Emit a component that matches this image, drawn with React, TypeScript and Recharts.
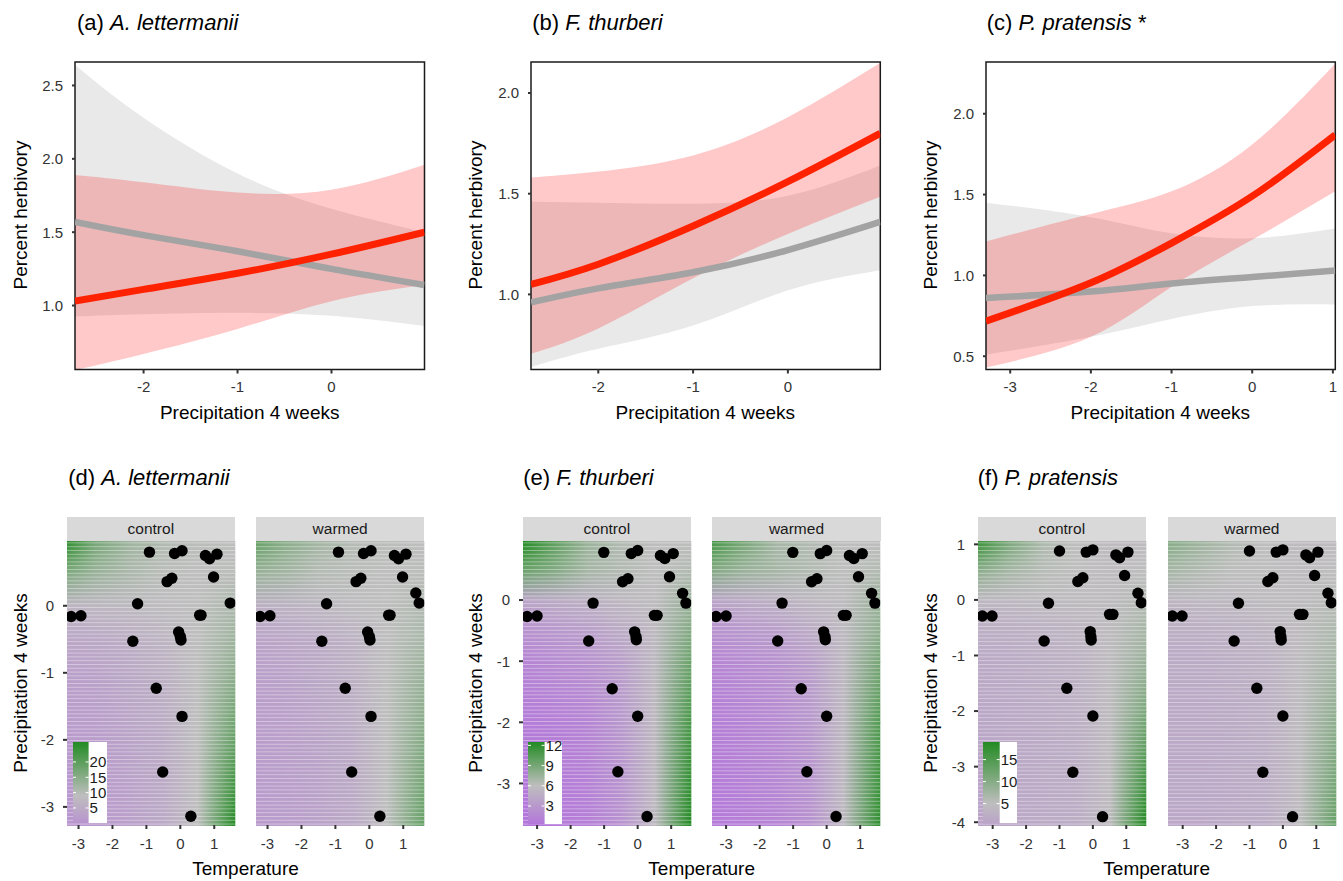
import React from 'react';
import { ComposedChart, ScatterChart, Scatter, Line, Area, XAxis, YAxis, ReferenceArea } from 'recharts';

const FONT = '"Liberation Sans", Arial, Helvetica, sans-serif';

// ---- top row: fitted herbivory vs precipitation ----
const X_A = [-2.73, -2, -1, 0, 0.99];
const RED_A = [1.03, 1.11, 1.22, 1.35, 1.5];
const RED_A_LO = [0.56, 0.67, 0.84, 1.03, 1.14];
const RED_A_HI = [1.89, 1.84, 1.77, 1.79, 1.96];
const GRAY_A = [1.57, 1.48, 1.37, 1.25, 1.14];
const GRAY_A_LO = [0.925, 0.94, 0.95, 0.93, 0.86];
const GRAY_A_HI = [2.64, 2.28, 1.9, 1.66, 1.5];

const X_B = [-2.71, -2, -1, 0, 0.975];
const RED_B = [1.05, 1.15, 1.34, 1.56, 1.8];
const RED_B_LO = [0.705, 0.83, 1.08, 1.3, 1.485];
const RED_B_HI = [1.58, 1.61, 1.69, 1.88, 2.15];
const GRAY_B = [0.96, 1.03, 1.11, 1.22, 1.36];
const GRAY_B_LO = [0.64, 0.73, 0.845, 1.02, 1.12];
const GRAY_B_HI = [1.46, 1.455, 1.45, 1.49, 1.64];

const X_C = [-3.3, -2, -1, 0, 1.03];
const RED_C = [0.717, 0.954, 1.2, 1.49, 1.87];
const RED_C_LO = [0.43, 0.62, 0.93, 1.22, 1.52];
const RED_C_HI = [1.21, 1.38, 1.52, 1.81, 2.31];
const GRAY_C = [0.86, 0.9, 0.95, 0.99, 1.03];
const GRAY_C_LO = [0.51, 0.62, 0.73, 0.81, 0.82];
const GRAY_C_HI = [1.45, 1.36, 1.26, 1.23, 1.29];

// ---- bottom row: observed temperature / precipitation ----
const D_TEMP = [-0.91, -0.17, 0.05, 0.74, 0.86, 1.08, 0.98, -0.39, -0.25, -1.26, 1.37, 1.47, -3.22, -2.93, 0.57, 0.61, -0.05, 0.0, 0.02, -1.4, -0.71, 0.05, -0.52, 0.31];
const D_PRECIP = [0.8, 0.78, 0.82, 0.75, 0.7, 0.77, 0.43, 0.36, 0.41, 0.03, 0.19, 0.04, -0.16, -0.15, -0.14, -0.14, -0.39, -0.46, -0.51, -0.53, -1.23, -1.65, -2.48, -3.14];
const D_CONTROL_MISSING = [10];

const E_TEMP = [-1.01, -0.19, 0.0, 0.68, 0.81, 1.06, 0.95, -0.45, -0.29, -1.33, 1.34, 1.44, -3.3, -3.0, 0.5, 0.58, -0.09, -0.05, -0.04, -1.46, -0.76, 0.0, -0.59, 0.28];
const E_PRECIP = [0.78, 0.76, 0.81, 0.73, 0.68, 0.76, 0.38, 0.3, 0.35, -0.05, 0.11, -0.05, -0.27, -0.26, -0.25, -0.25, -0.52, -0.6, -0.65, -0.67, -1.45, -1.9, -2.81, -3.54];

const F_TEMP = [-1.0, -0.2, 0.0, 0.69, 0.8, 1.05, 0.95, -0.45, -0.3, -1.33, 1.35, 1.45, -3.31, -3.02, 0.5, 0.6, -0.08, -0.06, -0.05, -1.46, -0.78, 0.0, -0.6, 0.29];
const F_PRECIP = [0.88, 0.86, 0.9, 0.81, 0.76, 0.86, 0.44, 0.33, 0.4, -0.06, 0.12, -0.05, -0.29, -0.29, -0.26, -0.26, -0.57, -0.66, -0.72, -0.74, -1.59, -2.09, -3.1, -3.9];

// predicted herbivory surface, read at grid temps (cols) x precip (rows)
const D_COLS = [-3.34, -2.5, -1.5, -0.5, 0.5, 1.62];
const D_ROWS = [0.966, 0.5, 0, -0.5, -1, -2, -3.27];
const D_CONTROL = [
  [25, 17, 12.5, 10.5, 9.5, 9],
  [16, 13, 11, 9.5, 9, 9.5],
  [7, 7.5, 8, 8.5, 9, 11],
  [4, 4.5, 5.5, 7, 9, 12.5],
  [2.5, 3, 4.5, 6, 9, 14.5],
  [1.5, 2, 3.5, 5, 9, 19],
  [0.5, 1, 2.5, 4.5, 9, 26],
];
const D_WARMED = [
  [19, 15, 12, 10, 9.5, 9],
  [13, 12, 10, 9.5, 9, 9.5],
  [6, 6.5, 7.5, 8.5, 9, 10.5],
  [3.5, 4, 5, 6.5, 9, 11.5],
  [2.5, 3, 4.5, 6, 9, 13],
  [2, 2.5, 3.5, 5, 9, 15.5],
  [1.5, 2, 3, 4.5, 9, 19],
];

const E_COLS = [-3.42, -2.5, -1.5, -0.5, 0.5, 1.6];
const E_ROWS = [0.966, 0.5, 0, -0.5, -1, -2, -3.68];
const E_CONTROL = [
  [12.5, 10, 7.5, 6.5, 6, 6],
  [9.5, 8.5, 7, 6.5, 6, 6.5],
  [4, 4.5, 5, 5.5, 5.8, 7.5],
  [2.5, 3, 3.5, 4.5, 5.6, 8.5],
  [1.5, 2, 2.5, 3.5, 5.5, 9.5],
  [0.8, 1, 1.5, 3, 5.5, 11],
  [0.3, 0.5, 1, 2.5, 5.5, 12.5],
];
const E_WARMED = [
  [11, 9, 7, 6.5, 6, 6],
  [8.5, 7.5, 7, 6.5, 6, 6.5],
  [4, 4.5, 5, 5.5, 5.8, 7.5],
  [2.5, 3, 3.5, 4.5, 5.6, 8],
  [1.5, 2, 2.5, 3.5, 5.5, 9],
  [1, 1.5, 2, 3, 5.5, 10.5],
  [0.6, 1, 1.5, 2.5, 5.5, 12],
];

const F_COLS = [-3.44, -2.5, -1.5, -0.5, 0.5, 1.6];
const F_ROWS = [1.06, 0.5, 0, -0.5, -1, -2, -4.05];
const F_CONTROL = [
  [17, 11, 6.5, 5, 4.5, 4.5],
  [9, 7, 5.5, 5, 4.5, 5],
  [4, 4, 4.5, 4.5, 4.5, 6],
  [2.5, 2.5, 3, 3.5, 4.5, 7],
  [1.5, 2, 2.5, 3, 4.5, 8],
  [1, 1.5, 2, 2.5, 4.5, 11],
  [0.5, 1, 1.5, 2, 4.5, 19],
];
const F_WARMED = [
  [10, 8, 6, 5, 4.5, 4.5],
  [7, 6, 5, 5, 4.5, 5],
  [3.5, 4, 4, 4.5, 4.5, 5.5],
  [2.5, 2.5, 3, 3.5, 4.5, 6.5],
  [2, 2, 2.5, 3, 4.5, 7],
  [1.5, 1.5, 2, 2.5, 4.5, 9],
  [1, 1, 1.5, 2, 4.5, 13],
];

const D_LEGEND_RANGE = [0.1, 26.5];
const D_LEGEND_TICKS = [5, 10, 15, 20];
const E_LEGEND_RANGE = [0.28, 12.5];
const E_LEGEND_TICKS = [3, 6, 9, 12];
const F_LEGEND_RANGE = [0.45, 19];
const F_LEGEND_TICKS = [5, 10, 15];

const TEMP_TICKS = [-3, -2, -1, 0, 1];

// colour scale: purple -> grey -> forestgreen around a midpoint
const LOW = [178, 108, 222];
const MID = [190, 190, 190];
const HIGH = [34, 139, 34];

function fillColor(v: number, range: number[], mid: number) {
  const span = Math.max(range[1] - mid, mid - range[0]);
  let t = 0.5 + (v - mid) / (2 * span);
  t = Math.min(1, Math.max(0, t));
  const a = t < 0.5 ? LOW : MID;
  const b = t < 0.5 ? MID : HIGH;
  const f = t < 0.5 ? t / 0.5 : (t - 0.5) / 0.5;
  const c = a.map((x, i) => Math.round(x + (b[i] - x) * f));
  return `rgb(${c[0]},${c[1]},${c[2]})`;
}

const tickStyle = { fill: '#333', fontSize: 15, fontFamily: FONT };

function TrendPanel(props: any) {
  const { left, top, width, height, xs, red, redLo, redHi, gray, grayLo, grayHi, xTicks, yTicks, yDomain } = props;
  const YW = 60;
  const data = xs.map((x: number, i: number) => ({
    x,
    red: red[i],
    redBand: [redLo[i], redHi[i]],
    gray: gray[i],
    grayBand: [grayLo[i], grayHi[i]],
  }));
  const xDomain = [xs[0], xs[xs.length - 1]];
  return (
    <div style={{ position: 'absolute', left: left - YW, top: top - 4 }}>
      <ComposedChart width={YW + width + 4} height={4 + height + 30} margin={{ top: 4, right: 4, bottom: 0, left: 0 }} data={data}>
        <XAxis type="number" dataKey="x" domain={xDomain} ticks={xTicks} allowDataOverflow height={30} fontSize={15}
          tickSize={4} tickMargin={8} axisLine={false} tickLine={{ stroke: '#333', strokeWidth: 2 }} tick={tickStyle} interval={0} />
        <YAxis type="number" domain={yDomain} ticks={yTicks} allowDataOverflow width={YW} fontSize={15}
          tickSize={3} tickMargin={9} axisLine={false} tickLine={{ stroke: '#333', strokeWidth: 2 }} tick={tickStyle}
          tickFormatter={(v: number) => v.toFixed(1)} interval={0} />
        <Area dataKey="grayBand" type="natural" stroke="none" fill="#999999" fillOpacity={0.22} isAnimationActive={false} dot={false} activeDot={false} />
        <Area dataKey="redBand" type="natural" stroke="none" fill="#FF0000" fillOpacity={0.21} isAnimationActive={false} dot={false} activeDot={false} />
        <Line dataKey="gray" type="natural" stroke="#A3A3A3" strokeWidth={6.5} dot={false} activeDot={false} isAnimationActive={false} />
        <Line dataKey="red" type="natural" stroke="#FF2200" strokeWidth={7} dot={false} activeDot={false} isAnimationActive={false} />
        <ReferenceArea x1={xDomain[0]} x2={xDomain[1]} y1={yDomain[0]} y2={yDomain[1]} fill="none" fillOpacity={0} stroke="#1A1A1A" strokeWidth={1.5} />
      </ComposedChart>
    </div>
  );
}

const STRIP_TOP = 516.7;
const MT = 10;

function HeatFacet(props: any) {
  const { id, left, top, width, height, cols, rows, grid, range, mid, temps, precips, skip, showY, yTicks, strip } = props;
  const YW = 46;
  const offsetLeft = showY ? YW : 0;
  const xDomain = [cols[0], cols[cols.length - 1]];
  const yDomain = [rows[rows.length - 1], rows[0]];
  const data = temps
    .map((t: number, i: number) => ({ t, p: precips[i], i }))
    .filter((d: any) => !(skip || []).includes(d.i));
  const xSpan = xDomain[1] - xDomain[0];
  const bands = [];
  for (let i = 0; i < rows.length - 1; i++) {
    const a = `${id}-r${i}`;
    const b = `${id}-r${i + 1}`;
    bands.push(
      <ReferenceArea key={i} x1={xDomain[0]} x2={xDomain[1]} y1={rows[i + 1]} y2={rows[i]}
        shape={(p: any) => (
          <g>
            <rect x={p.x} y={p.y} width={p.width} height={p.height + 1} fill={`url(#${a})`} />
            <rect x={p.x} y={p.y} width={p.width} height={p.height + 1} fill={`url(#${b})`} mask={`url(#${id}-fade)`} />
          </g>
        )} />
    );
  }
  return (
    <>
      <div style={{
        position: 'absolute', left, top: STRIP_TOP, width, height: top - STRIP_TOP, background: '#D9D9D9',
        fontFamily: FONT, fontSize: 15.5, color: '#1A1A1A', display: 'flex', alignItems: 'center', justifyContent: 'center',
      }}>{strip}</div>
      <div style={{ position: 'absolute', left: left - offsetLeft, top: top - MT }}>
        <ScatterChart width={offsetLeft + width + 2} height={MT + height + 30} margin={{ top: MT, right: 2, bottom: 0, left: 0 }}>
          <defs>
            {grid.map((row: number[], r: number) => (
              <linearGradient key={r} id={`${id}-r${r}`} x1="0" y1="0" x2="1" y2="0">
                {row.map((v, j) => (
                  <stop key={j} offset={(cols[j] - xDomain[0]) / xSpan} stopColor={fillColor(v, range, mid)} />
                ))}
              </linearGradient>
            ))}
            <linearGradient id={`${id}-fadeg`} x1="0" y1="0" x2="0" y2="1">
              <stop offset="0" stopColor="#fff" stopOpacity={0} />
              <stop offset="1" stopColor="#fff" stopOpacity={1} />
            </linearGradient>
            <mask id={`${id}-fade`} maskContentUnits="objectBoundingBox">
              <rect x="0" y="0" width="1" height="1" fill={`url(#${id}-fadeg)`} />
            </mask>
            <pattern id={`${id}-stripes`} patternUnits="userSpaceOnUse" width="8" height="3.8">
              <rect x="0" y="0" width="8" height="0.8" fill="#fff" fillOpacity={0.45} />
            </pattern>
          </defs>
          <XAxis type="number" dataKey="t" domain={xDomain} ticks={TEMP_TICKS} allowDataOverflow height={30} fontSize={15}
            tickSize={4} tickMargin={9} axisLine={false} tickLine={{ stroke: '#333', strokeWidth: 2 }} tick={tickStyle} interval={0} />
          <YAxis type="number" dataKey="p" domain={yDomain} ticks={yTicks} allowDataOverflow width={YW} hide={!showY} fontSize={15}
            tickSize={4} tickMargin={9} axisLine={false} tickLine={{ stroke: '#333', strokeWidth: 2 }} tick={tickStyle} interval={0} />
          {bands}
          <ReferenceArea x1={xDomain[0]} x2={xDomain[1]} y1={yDomain[0]} y2={yDomain[1]} fill={`url(#${id}-stripes)`} fillOpacity={1} stroke="none" />
          <Scatter data={data} isAnimationActive={false}
            shape={(p: any) => <circle cx={p.cx} cy={p.cy} r={5.7} fill="#000" />} />
        </ScatterChart>
      </div>
    </>
  );
}

function ColorBar(props: any) {
  const { id, left, top, barWidth, boxWidth, height, range, ticks, mid } = props;
  const yOf = (v: number) => ((range[1] - v) / (range[1] - range[0])) * height;
  const stops = [range[1], mid, range[0]];
  return (
    <div style={{ position: 'absolute', left, top, width: boxWidth, height, background: '#fff' }}>
      <svg width={boxWidth} height={height} style={{ display: 'block', overflow: 'visible' }}>
        <defs>
          <linearGradient id={id} x1="0" y1="0" x2="0" y2="1">
            {stops.map((v, i) => (
              <stop key={i} offset={yOf(v) / height} stopColor={fillColor(v, range, mid)} />
            ))}
          </linearGradient>
        </defs>
        <rect x={0} y={0} width={barWidth} height={height} fill={`url(#${id})`} />
        {ticks.map((t: number) => (
          <g key={t}>
            <line x1={0} x2={3} y1={yOf(t)} y2={yOf(t)} stroke="#fff" strokeWidth={1} />
            <line x1={barWidth - 3} x2={barWidth} y1={yOf(t)} y2={yOf(t)} stroke="#fff" strokeWidth={1} />
            <text x={barWidth + 1} y={yOf(t)} dy="0.36em" fontSize={15} fontFamily={FONT} fill="#1A1A1A">{t}</text>
          </g>
        ))}
      </svg>
    </div>
  );
}

function Title({ left, top, tag, sp, tail }: any) {
  return (
    <div style={{ position: 'absolute', left, top, fontFamily: FONT, fontSize: 22, lineHeight: 1, whiteSpace: 'nowrap', color: '#000' }}>
      {tag} <i>{sp}</i>{tail || ''}
    </div>
  );
}

function XTitle({ cx, top, text }: any) {
  return (
    <div style={{ position: 'absolute', left: cx, top, transform: 'translateX(-50%)', fontFamily: FONT, fontSize: 19, lineHeight: 1, whiteSpace: 'nowrap' }}>
      {text}
    </div>
  );
}

function YTitle({ cx, cy, text }: any) {
  return (
    <div style={{ position: 'absolute', left: cx, top: cy, transform: 'translate(-50%,-50%) rotate(-90deg)', fontFamily: FONT, fontSize: 19, lineHeight: 1, whiteSpace: 'nowrap' }}>
      {text}
    </div>
  );
}

export default function App() {
  const PT = 61.5;
  const PH = 307.5;
  const BT = 541;
  const BH = 284;
  const FW = 168.3;
  return (
    <div style={{ position: 'absolute', left: 0, top: 0, width: 1343, height: 881, background: '#fff', overflow: 'hidden' }}>
      <Title left={77} top={12.4} tag="(a)" sp="A. lettermanii" />
      <Title left={532.3} top={12.4} tag="(b)" sp="F. thurberi" />
      <Title left={986.7} top={12.4} tag="(c)" sp="P. pratensis" tail=" *" />

      <TrendPanel left={75} top={PT} width={349.5} height={PH} xs={X_A} red={RED_A} redLo={RED_A_LO} redHi={RED_A_HI}
        gray={GRAY_A} grayLo={GRAY_A_LO} grayHi={GRAY_A_HI} xTicks={[-2, -1, 0]} yTicks={[1, 1.5, 2, 2.5]} yDomain={[0.564, 2.66]} />
      <TrendPanel left={530.7} top={PT} width={349.3} height={PH} xs={X_B} red={RED_B} redLo={RED_B_LO} redHi={RED_B_HI}
        gray={GRAY_B} grayLo={GRAY_B_LO} grayHi={GRAY_B_HI} xTicks={[-2, -1, 0]} yTicks={[1, 1.5, 2]} yDomain={[0.627, 2.154]} />
      <TrendPanel left={985.7} top={PT} width={349.3} height={PH} xs={X_C} red={RED_C} redLo={RED_C_LO} redHi={RED_C_HI}
        gray={GRAY_C} grayLo={GRAY_C_LO} grayHi={GRAY_C_HI} xTicks={[-3, -2, -1, 0, 1]} yTicks={[0.5, 1, 1.5, 2]} yDomain={[0.418, 2.32]} />

      <YTitle cx={20} cy={215} text="Percent herbivory" />
      <YTitle cx={475} cy={215} text="Percent herbivory" />
      <YTitle cx={930} cy={215} text="Percent herbivory" />
      <XTitle cx={249.7} top={402.5} text="Precipitation 4 weeks" />
      <XTitle cx={705.3} top={402.5} text="Precipitation 4 weeks" />
      <XTitle cx={1160.3} top={402.5} text="Precipitation 4 weeks" />

      <Title left={68.3} top={467} tag="(d)" sp="A. lettermanii" />
      <Title left={523.3} top={467} tag="(e)" sp="F. thurberi" />
      <Title left={977.7} top={467} tag="(f)" sp="P. pratensis" />

      <HeatFacet id="dc" left={66.7} top={BT} width={FW} height={BH} cols={D_COLS} rows={D_ROWS} grid={D_CONTROL}
        range={D_LEGEND_RANGE} mid={9} temps={D_TEMP} precips={D_PRECIP} skip={D_CONTROL_MISSING} showY yTicks={[-3, -2, -1, 0]} strip="control" />
      <HeatFacet id="dw" left={256} top={BT} width={FW} height={BH} cols={D_COLS} rows={D_ROWS} grid={D_WARMED}
        range={D_LEGEND_RANGE} mid={9} temps={D_TEMP} precips={D_PRECIP} showY={false} yTicks={[-3, -2, -1, 0]} strip="warmed" />
      <HeatFacet id="ec" left={522.7} top={BT} width={FW} height={BH} cols={E_COLS} rows={E_ROWS} grid={E_CONTROL}
        range={E_LEGEND_RANGE} mid={6} temps={E_TEMP} precips={E_PRECIP} showY yTicks={[-3, -2, -1, 0]} strip="control" />
      <HeatFacet id="ew" left={712.3} top={BT} width={FW} height={BH} cols={E_COLS} rows={E_ROWS} grid={E_WARMED}
        range={E_LEGEND_RANGE} mid={6} temps={E_TEMP} precips={E_PRECIP} showY={false} yTicks={[-3, -2, -1, 0]} strip="warmed" />
      <HeatFacet id="fc" left={977.7} top={BT} width={FW} height={BH} cols={F_COLS} rows={F_ROWS} grid={F_CONTROL}
        range={F_LEGEND_RANGE} mid={5} temps={F_TEMP} precips={F_PRECIP} showY yTicks={[-4, -3, -2, -1, 0, 1]} strip="control" />
      <HeatFacet id="fw" left={1167.7} top={BT} width={FW} height={BH} cols={F_COLS} rows={F_ROWS} grid={F_WARMED}
        range={F_LEGEND_RANGE} mid={5} temps={F_TEMP} precips={F_PRECIP} showY={false} yTicks={[-4, -3, -2, -1, 0, 1]} strip="warmed" />

      <ColorBar id="legd" left={72.7} top={741.7} barWidth={15.6} boxWidth={34} height={81} range={D_LEGEND_RANGE} ticks={D_LEGEND_TICKS} mid={9} />
      <ColorBar id="lege" left={527.7} top={741.7} barWidth={16.6} boxWidth={34} height={82.3} range={E_LEGEND_RANGE} ticks={E_LEGEND_TICKS} mid={6} />
      <ColorBar id="legf" left={983.3} top={741.7} barWidth={16.7} boxWidth={34} height={81.6} range={F_LEGEND_RANGE} ticks={F_LEGEND_TICKS} mid={5} />

      <YTitle cx={20} cy={683} text="Precipitation 4 weeks" />
      <YTitle cx={475} cy={683} text="Precipitation 4 weeks" />
      <YTitle cx={930} cy={683} text="Precipitation 4 weeks" />
      <XTitle cx={245.5} top={859} text="Temperature" />
      <XTitle cx={701.7} top={859} text="Temperature" />
      <XTitle cx={1156.7} top={859} text="Temperature" />
    </div>
  );
}
